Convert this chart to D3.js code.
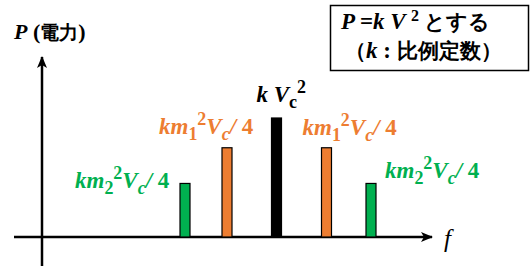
<!DOCTYPE html>
<html><head><meta charset="utf-8">
<script src="https://cdn.jsdelivr.net/npm/d3@7"></script>
<style>
html,body{margin:0;padding:0;background:#fff;}
svg{display:block;}
text,tspan{font-family:"Liberation Serif",serif;font-weight:bold;}
.i{font-style:italic;}
.n{font-style:normal;}
</style></head>
<body>
<script>
// ---- data ----
const categories = ["fc-fm2", "fc-fm1", "fc", "fc+fm1", "fc+fm2"];
const freqOffsets = [-1.83, -0.99, 0, 1, 1.89];   // relative frequency positions
const powerValues = [0.45, 0.75, 1, 0.75, 0.45];  // relative power (k Vc^2 = 1)
const barColors = ["#00B050", "#ED7D31", "#000000", "#ED7D31", "#00B050"];
const barLabels = ["m2", "m1", "c", "m1", "m2"];

const W = 531, H = 268;
const svg = d3.select("body").append("svg").attr("width", W).attr("height", H);

const x = d3.scaleLinear().domain([-1, 1]).range([226.5, 326.5]);
const y = d3.scaleLinear().domain([0, 1]).range([237, 118]);
const barW = 10;

// arrow marker
const defs = svg.append("defs");
defs.append("marker").attr("id", "arr").attr("viewBox", "0 0 12 10")
  .attr("refX", 11).attr("refY", 5).attr("markerWidth", 12).attr("markerHeight", 10)
  .attr("markerUnits", "userSpaceOnUse").attr("orient", "auto")
  .append("path").attr("d", "M0,0 L12,5 L0,10 L3,5 Z").attr("fill", "#000");

// axes
svg.append("line").attr("x1", 14).attr("x2", 432).attr("y1", y(0)).attr("y2", y(0))
  .attr("stroke", "#000").attr("stroke-width", 2.5).attr("marker-end", "url(#arr)");
svg.append("line").attr("x1", 42).attr("x2", 42).attr("y1", 266).attr("y2", 57)
  .attr("stroke", "#000").attr("stroke-width", 2.5).attr("marker-end", "url(#arr)");

// bars
const data = categories.map((c, i) => ({c, f: freqOffsets[i], v: powerValues[i], col: barColors[i], lab: barLabels[i]}));
svg.selectAll("rect.bar").data(data).join("rect").attr("class", "bar")
  .attr("x", d => x(d.f) - barW / 2).attr("width", barW)
  .attr("y", d => y(d.v)).attr("height", d => y(0) - y(d.v))
  .attr("fill", d => d.col).attr("stroke", "#000").attr("stroke-width", 1.2);

// rich text helper: segments [text, italic?, pos('b','sub','sup')]
function rich(g, segs, size) {
  const t = g.append("text").style("font-size", size + "px");
  let cur = 0;
  segs.forEach(s => {
    const [txt, it, pos] = s;
    const target = pos === "sub" ? size * 0.25 : pos === "sup" ? -size * 0.4 : 0;
    t.append("tspan").text(txt).attr("dy", target - cur)
      .attr("class", it ? "i" : "n")
      .style("font-size", (pos === "b" ? size : size * 0.78) + "px");
    cur = target;
  });
  return t;
}

function modLabel(d) {
  return [["k", 1, "b"], ["m", 1, "b"], [d.lab.slice(1), 0, "sub"], ["2", 0, "sup"], ["V", 1, "b"], ["c", 1, "sub"], ["/ ", 1, "b"], ["4", 0, "b"]];
}
const fs = 23;
data.forEach((d, i) => {
  const g = svg.append("g");
  let t;
  if (d.lab === "c") {
    t = rich(g, [["k", 1, "b"], [" V", 1, "b"], ["c", 0, "sub"], ["2", 0, "sup"]], fs);
    t.attr("x", x(d.f) - 20).attr("y", y(d.v) - 16);
  } else {
    t = rich(g, modLabel(d), fs);
    if (i === 0) t.attr("x", x(d.f) - 110).attr("y", y(d.v) + 5);
    if (i === 1) t.attr("x", x(d.f) - 68).attr("y", y(d.v) - 14);
    if (i === 3) t.attr("x", x(d.f) - 24).attr("y", y(d.v) - 13);
    if (i === 4) t.attr("x", x(d.f) + 14).attr("y", y(d.v) - 5);
  }
  t.attr("fill", d.col);
});

// axis labels
const pl = svg.append("text").attr("x", 14).attr("y", 39).style("font-size", "22px");
pl.append("tspan").text("P").attr("class", "i");
pl.append("tspan").text(" (").attr("class", "n");
pl.append("tspan").text("電力").attr("class", "n").style("font-size", "19px");
pl.append("tspan").text(")").attr("class", "n");

svg.append("text").attr("x", 444).attr("y", 247).attr("class", "i").style("font-weight", "normal").style("font-size", "25px").text("f");

// box
svg.append("rect").attr("x", 330.5).attr("y", 5.5).attr("width", 198).attr("height", 65)
  .attr("fill", "none").attr("stroke", "#000").attr("stroke-width", 1.5);
const l1 = svg.append("text").attr("x", 341).attr("y", 29).style("font-size", "23px");
l1.append("tspan").text("P ").attr("class", "i");
l1.append("tspan").text("=").attr("class", "n");
l1.append("tspan").text("k V ").attr("class", "i");
l1.append("tspan").text("2").attr("class", "n").style("font-size", "16px").attr("dy", -8);
l1.append("tspan").text(" とする").attr("class", "n").style("font-size", "21px").attr("dy", 8);
const l2 = svg.append("text").attr("x", 345).attr("y", 58).style("font-size", "21px");
l2.append("tspan").text("（").attr("class", "n");
l2.append("tspan").text("k").attr("class", "i").style("font-size", "23px");
l2.append("tspan").text(" : ").attr("class", "n").style("font-size", "23px");
l2.append("tspan").text("比例定数）").attr("class", "n");
</script>
</body></html>
